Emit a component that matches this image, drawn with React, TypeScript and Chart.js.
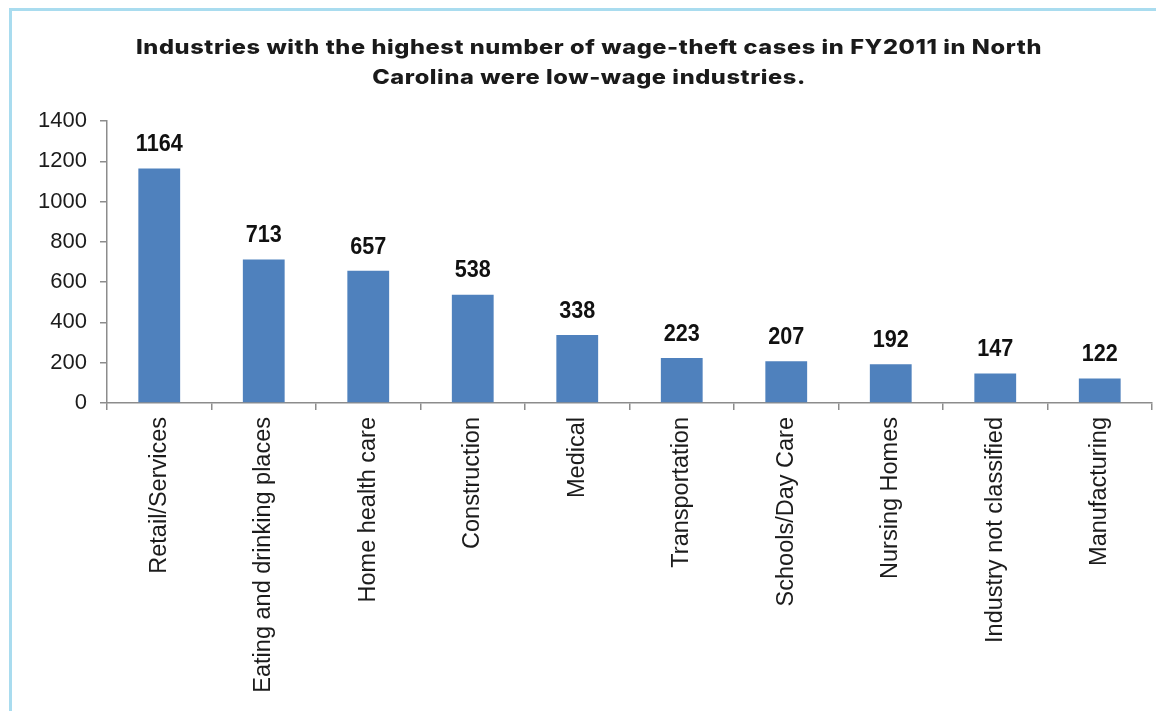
import React, { useEffect, useRef } from "react";
import { Chart, registerables } from "chart.js";

Chart.register(...registerables);

const categories = [
  "Retail/Services",
  "Eating and drinking places",
  "Home health care",
  "Construction",
  "Medical",
  "Transportation",
  "Schools/Day Care",
  "Nursing Homes",
  "Industry not classified",
  "Manufacturing",
];
const cases = [1164, 713, 657, 538, 338, 223, 207, 192, 147, 122];
const titleLines = [
  "Industries with the highest number of wage-theft cases in FY2011 in North",
  "Carolina were low-wage industries.",
];
const yMin = 0;
const yMax = 1400;
const yStep = 200;

const BAR_COLOR = "#4f81bd";
const TEXT_COLOR = "#1c1c1c";
const AXIS_COLOR = "#8c8c8c";

const titlePlugin = {
  id: "customTitle",
  afterDraw(chart: any) {
    const ctx = chart.ctx;
    ctx.save();
    ctx.fillStyle = "#1a1a1a";
    ctx.font = "800 20px Inter";
    try {
      (ctx as any).letterSpacing = "0.5px";
    } catch (e) {}
    ctx.textAlign = "center";
    ctx.textBaseline = "middle";
    const cx = 589;
    const sx = 1.18;
    ctx.translate(cx, 0);
    ctx.scale(sx, 1);
    titleLines.forEach((line, i) => {
      ctx.fillText(line, 0, 48 + i * 30);
    });
    ctx.restore();
  },
};

const valueLabels = {
  id: "valueLabels",
  afterDatasetsDraw(chart: any) {
    const ctx = chart.ctx;
    const meta = chart.getDatasetMeta(0);
    ctx.save();
    ctx.fillStyle = "#111";
    ctx.font = "bold 23px 'Liberation Sans', Arial, sans-serif";
    ctx.textAlign = "center";
    ctx.textBaseline = "bottom";
    meta.data.forEach((bar: any, i: number) => {
      ctx.save();
      ctx.translate(bar.x, bar.y - 12);
      ctx.scale(0.94, 1);
      ctx.fillText(String(cases[i]), 0, 0);
      ctx.restore();
    });
    ctx.restore();
  },
};

export default function App() {
  const ref = useRef<HTMLCanvasElement>(null);
  useEffect(() => {
    if (!ref.current) return;
    const chart = new Chart(ref.current, {
      type: "bar",
      data: {
        labels: categories,
        datasets: [
          {
            data: cases,
            backgroundColor: BAR_COLOR,
            borderWidth: 0,
            barPercentage: 0.4,
            categoryPercentage: 1,
          },
        ],
      },
      options: {
        responsive: false,
        animation: false,
        layout: { padding: { top: 121, right: 4, left: 0, bottom: 0 } },
        plugins: {
          legend: { display: false },
          tooltip: { enabled: false },
          title: { display: false },
        },
        scales: {
          x: {
            afterFit(scale: any) {
              scale.height = 308;
            },
            grid: {
              offset: true,
              drawOnChartArea: false,
              drawTicks: true,
              tickLength: 7,
              color: AXIS_COLOR,
              lineWidth: 1.5,
            },
            border: { display: true, color: AXIS_COLOR, width: 1.5 },
            ticks: {
              minRotation: 90,
              maxRotation: 90,
              autoSkip: false,
              padding: 7,
              color: TEXT_COLOR,
              font: { family: "'Liberation Sans', Arial, sans-serif", size: 23.5 },
            },
          },
          y: {
            min: yMin,
            max: yMax,
            afterFit(scale: any) {
              scale.width = 107;
            },
            grid: {
              drawOnChartArea: false,
              drawTicks: true,
              tickLength: 7,
              color: AXIS_COLOR,
              lineWidth: 1.5,
            },
            border: { display: true, color: AXIS_COLOR, width: 1.5 },
            ticks: {
              stepSize: yStep,
              padding: 13,
              color: TEXT_COLOR,
              font: { family: "'Liberation Sans', Arial, sans-serif", size: 22 },
              callback: (v: any) => String(v),
            },
          },
        },
      },
      plugins: [titlePlugin, valueLabels],
    });
    return () => chart.destroy();
  }, []);

  return (
    <div
      style={{
        position: "absolute",
        left: 0,
        top: 0,
        width: 1156,
        height: 711,
        background: "#fff",
        overflow: "hidden",
      }}
    >
      <div
        style={{
          position: "absolute",
          left: 9,
          top: 8,
          right: -10,
          bottom: -10,
          borderTop: "3px solid #a9dcef",
          borderLeft: "3px solid #a9dcef",
        }}
      />
      <canvas
        ref={ref}
        width={1156}
        height={711}
        style={{ position: "absolute", left: 0, top: 0 }}
      />
    </div>
  );
}
